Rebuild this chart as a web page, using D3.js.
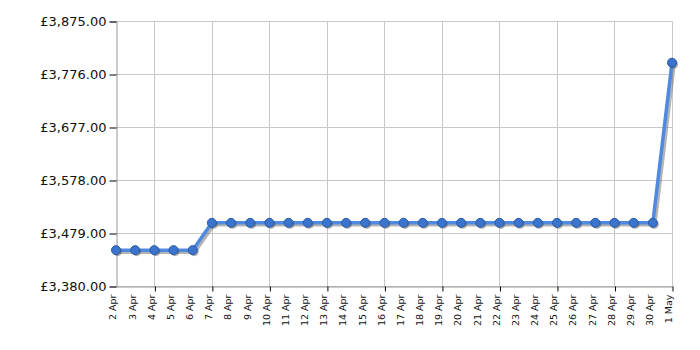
<!DOCTYPE html>
<html lang="en">
<head>
<meta charset="UTF-8">
<title>Price history</title>
<script src="https://d3js.org/d3.v7.min.js"></script>
<style>
    body { margin: 0; background: #fff; }
    svg text { font-family: "DejaVu Sans", Verdana, sans-serif; fill: #111; }
    .grid line { stroke: #c8c8c8; stroke-width: 1; }
    .line { fill: none; stroke: #4f8ae0; stroke-width: 3.5; stroke-linejoin: round; }
    .shadow { fill: none; stroke: #777; stroke-width: 3.5; opacity: 0.55; stroke-linejoin: round; }
    .dot { fill: #3a74cc; stroke: #2a5aa6; stroke-width: 1; }
    .dotshadow { fill: #555; opacity: 0.5; }
</style>
</head>
<body>
<script>
    // dates 2 Apr .. 1 May
    const days = ["2 Apr","3 Apr","4 Apr","5 Apr","6 Apr","7 Apr","8 Apr","9 Apr","10 Apr","11 Apr",
        "12 Apr","13 Apr","14 Apr","15 Apr","16 Apr","17 Apr","18 Apr","19 Apr","20 Apr","21 Apr",
        "22 Apr","23 Apr","24 Apr","25 Apr","26 Apr","27 Apr","28 Apr","29 Apr","30 Apr","1 May"];
    const prices = [3447,3447,3447,3447,3447,3498,3498,3498,3498,3498,
        3498,3498,3498,3498,3498,3498,3498,3498,3498,3498,
        3498,3498,3498,3498,3498,3498,3498,3498,3498,3797];
    const yTicks = [3380, 3479, 3578, 3677, 3776, 3875];
    const xTickDays = ["4 Apr","7 Apr","10 Apr","13 Apr","16 Apr","19 Apr","22 Apr","25 Apr","28 Apr","1 May"];

    const width = 700, height = 350;
    const margin = {top: 21, right: 28, bottom: 64, left: 116};

    const svg = d3.select('body').append('svg')
        .attr('width', width)
        .attr('height', height);

    const x = d3.scalePoint().domain(days).range([margin.left, width - margin.right]);
    const y = d3.scaleLinear().domain([3380, 3875]).range([height - margin.bottom, margin.top]);

    // grid
    const grid = svg.append('g').attr('class', 'grid');
    grid.selectAll('.h').data(yTicks).enter().append('line')
        .attr('x1', margin.left).attr('x2', width - margin.right)
        .attr('y1', d => y(d) + 0.5).attr('y2', d => y(d) + 0.5);
    grid.selectAll('.v').data(xTickDays).enter().append('line')
        .attr('x1', d => Math.round(x(d)) + 0.5).attr('x2', d => Math.round(x(d)) + 0.5)
        .attr('y1', margin.top).attr('y2', height - margin.bottom);

    // axes
    const fmt = d => '£' + d3.format(',.2f')(d);
    const yAxis = svg.append('g')
        .attr('transform', `translate(${margin.left + 0.5},0.5)`)
        .call(d3.axisLeft(y).tickValues(yTicks).tickFormat(fmt).tickSize(7).tickPadding(3));
    yAxis.select('.domain').attr('stroke', '#999');
    yAxis.selectAll('.tick line').attr('stroke', '#000');
    yAxis.selectAll('text').style('font-size', '13px').attr('fill', '#111');

    const xAxis = svg.append('g')
        .attr('transform', `translate(0.5,${height - margin.bottom + 0.5})`)
        .call(d3.axisBottom(x).tickValues(days).tickSize(0).tickPadding(0));
    xAxis.select('.domain').attr('stroke', '#999');
    xAxis.selectAll('.tick text')
        .style('font-size', '9.5px')
        .attr('transform', 'rotate(-90)')
        .attr('text-anchor', 'end')
        .attr('x', -8)
        .attr('y', -4)
        .attr('dy', '0.35em')
        .attr('fill', '#111');
    xAxis.selectAll('.tick').filter(d => xTickDays.includes(d))
        .append('line').attr('y1', 0).attr('y2', 5).attr('stroke', '#000');

    // series
    const pts = days.map((d, i) => ({day: d, value: prices[i]}));
    const line = d3.line().x(d => x(d.day)).y(d => y(d.value));

    svg.append('path').datum(pts).attr('class', 'shadow')
        .attr('transform', 'translate(2,2)').attr('d', line);
    svg.append('path').datum(pts).attr('class', 'line').attr('d', line);

    svg.selectAll('.dotshadow').data(pts).enter().append('circle')
        .attr('class', 'dotshadow')
        .attr('cx', d => x(d.day) + 1.5).attr('cy', d => y(d.value) + 1.5).attr('r', 4.5);
    svg.selectAll('.dot').data(pts).enter().append('circle')
        .attr('class', 'dot')
        .attr('cx', d => x(d.day)).attr('cy', d => y(d.value)).attr('r', 4.5);
</script>
</body>
</html>
